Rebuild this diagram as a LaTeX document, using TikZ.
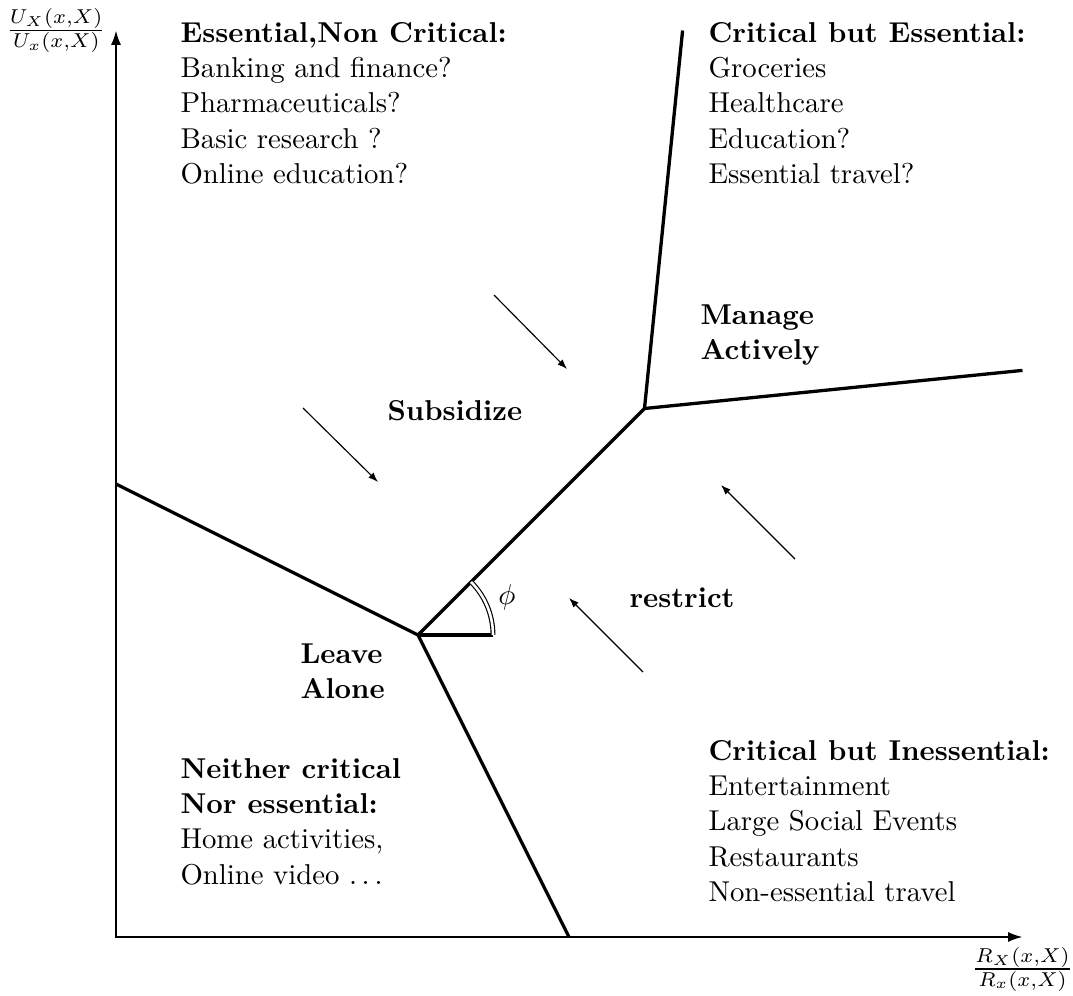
\documentclass[tikz,border=0pt]{standalone}
\usetikzlibrary{arrows.meta}
\begin{document}
\begin{tikzpicture}[x=0.348pt,y=-0.348pt,
  boundary/.style={line width=1.15pt,line join=round},
  axisline/.style={line width=0.65pt,{Latex[length=5pt,width=3.5pt]}-{Latex[length=5pt,width=3.5pt]}},
  push/.style={line width=0.4pt,-{Latex[length=3.4pt,width=2.5pt]}},
  block/.style={anchor=north west,inner sep=0pt,align=left,font=\fontsize{10}{12.3}\selectfont},
  verdict/.style={inner sep=0pt,align=left,font=\fontsize{10}{12.2}\selectfont\bfseries}]
\useasboundingbox (0,0) rectangle (1073,996);
% axes
\coordinate (O) at (116,937);
\coordinate (XT) at (1022.5,937);
\coordinate (YT) at (116,30.5);
\draw[axisline] (YT) -- (O) -- (XT);
\node[left] (ylab) at (YT) {$\frac{U_X(x,X)}{U_x(x,X)}$};
\node[below] (xlab) at (XT) {$\frac{R_X(x,X)}{R_x(x,X)}$};
% boundaries
\coordinate (L) at (418,635);
\coordinate (U) at (644.5,408.5);
\coordinate (LE) at (116,484);
\coordinate (BE) at (569,937);
\coordinate (TE) at (682.6,30.5);
\coordinate (RE) at (1022.5,370.4);
\coordinate (AE) at (493,635);
\draw[boundary] (LE) -- (L) -- (BE);
\draw[boundary] (L) -- (U) -- (TE);
\draw[boundary] (U) -- (RE);
% angle
\draw[boundary] (L) -- (AE);
\draw[line width=0.4pt,double,double distance=0.9pt] (AE) arc[start angle=0,end angle=45,radius=26.1pt];
\node (phi) at (507,597) {$\phi$};
% push arrows
\coordinate (a1s) at (494,295); \coordinate (a1e) at (567,369);
\coordinate (a2s) at (303,408); \coordinate (a2e) at (378,482);
\coordinate (a3s) at (795,559); \coordinate (a3e) at (721,485);
\coordinate (a4s) at (643,672); \coordinate (a4e) at (569,598);
\draw[push] (a1s) -- (a1e);
\draw[push] (a2s) -- (a2e);
\draw[push] (a3s) -- (a3e);
\draw[push] (a4s) -- (a4e);
% quadrant texts
\node[block] (ene) at (180,21.7) {\textbf{Essential,Non Critical:}\\Banking and finance?\\Pharmaceuticals?\\Basic research ?\\Online education?};
\node[block] (cbe) at (708,21.7) {\textbf{Critical but Essential:}\\Groceries\\Healthcare\\Education?\\Essential travel?};
\node[block] (ncne) at (180,757.7) {\textbf{Neither critical}\\\textbf{Nor essential:}\\Home activities,\\Online video $\ldots$};
\node[block] (cbi) at (708,739.7) {\textbf{Critical but Inessential:}\\Entertainment\\Large Social Events\\Restaurants\\Non-essential travel};
% verdicts
\node[verdict,anchor=north west] (manage) at (700,303.8) {Manage\\Actively};
\node[verdict,anchor=north west] (leave) at (300,642.8) {Leave\\Alone};
\node[verdict,anchor=base west] (subs) at (387,420) {Subsidize};
\node[verdict,anchor=base west] (restr) at (629,607) {restrict};
\end{tikzpicture}
\end{document}
